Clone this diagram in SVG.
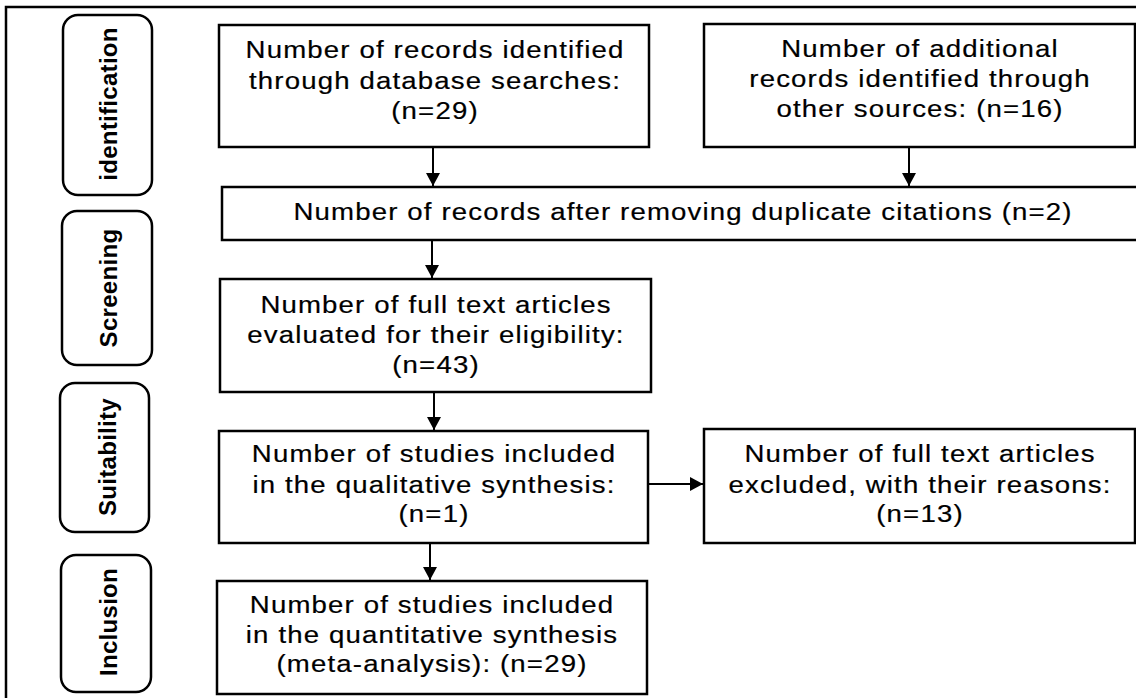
<svg xmlns="http://www.w3.org/2000/svg" width="1136" height="698" viewBox="0 0 1136 698">
<style>
.box{fill:#fff;stroke:#000;stroke-width:2.5}
.side{fill:#fff;stroke:#000;stroke-width:2.5}
.t{font-family:"Liberation Sans",Arial,sans-serif;font-size:24px;fill:#000;text-anchor:middle;letter-spacing:1px;stroke:#000;stroke-width:0.2}
.s{font-family:"Liberation Sans",Arial,sans-serif;font-size:24px;font-weight:bold;fill:#000;text-anchor:middle;letter-spacing:0.3px}
.c{stroke:#000;stroke-width:2;fill:none}
</style>
<defs>
<marker id="ah" viewBox="0 0 13 14" refX="13" refY="7" markerWidth="13" markerHeight="14" markerUnits="userSpaceOnUse" orient="auto">
<path d="M0,0 L13,7 L0,14 Z" fill="#000"/>
</marker>
</defs>
<rect x="6" y="7" width="1140" height="700" fill="#fff" stroke="#000" stroke-width="2.5"/>
<g id="side-identification"><rect class="side" x="63" y="15" width="89" height="180" rx="15"/><text class="s" transform="translate(117,104) rotate(-90)">identification</text></g>
<g id="side-screening"><rect class="side" x="62" y="211" width="90" height="154" rx="15"/><text class="s" transform="translate(117,288) rotate(-90)">Screening</text></g>
<g id="side-suitability"><rect class="side" x="60" y="383" width="89" height="149" rx="15"/><text class="s" transform="translate(116,457) rotate(-90)">Suitability</text></g>
<g id="side-inclusion"><rect class="side" x="61" y="555" width="90" height="137" rx="15"/><text class="s" transform="translate(117,622) rotate(-90)">Inclusion</text></g>
<g id="n1"><rect class="box" x="219" y="25" width="430" height="122"/>
<text class="t" transform="translate(435,58) scale(1.15,1)">Number of records identified</text>
<text class="t" transform="translate(435,89) scale(1.15,1)">through database searches:</text>
<text class="t" transform="translate(435,119) scale(1.15,1)">(n=29)</text></g>
<g id="n2"><rect class="box" x="704" y="24" width="431" height="123"/>
<text class="t" transform="translate(920,57) scale(1.15,1)">Number of additional</text>
<text class="t" transform="translate(920,87) scale(1.15,1)">records identified through</text>
<text class="t" transform="translate(920,117) scale(1.15,1)">other sources: (n=16)</text></g>
<g id="n3"><rect class="box" x="222" y="187" width="920" height="53"/>
<text class="t" transform="translate(683,220) scale(1.15,1)">Number of records after removing duplicate citations (n=2)</text></g>
<g id="n4"><rect class="box" x="220" y="279" width="431" height="113"/>
<text class="t" transform="translate(436,313) scale(1.15,1)">Number of full text articles</text>
<text class="t" transform="translate(436,343) scale(1.15,1)">evaluated for their eligibility:</text>
<text class="t" transform="translate(436,373) scale(1.15,1)">(n=43)</text></g>
<g id="n5"><rect class="box" x="219" y="431" width="429" height="112"/>
<text class="t" transform="translate(434,462) scale(1.15,1)">Number of studies included</text>
<text class="t" transform="translate(434,493) scale(1.15,1)">in the qualitative synthesis:</text>
<text class="t" transform="translate(434,522) scale(1.15,1)">(n=1)</text></g>
<g id="n6"><rect class="box" x="704" y="429" width="431" height="114"/>
<text class="t" transform="translate(920,462) scale(1.15,1)">Number of full text articles</text>
<text class="t" transform="translate(920,493) scale(1.15,1)">excluded, with their reasons:</text>
<text class="t" transform="translate(920,522) scale(1.15,1)">(n=13)</text></g>
<g id="n7"><rect class="box" x="217" y="581" width="430" height="113"/>
<text class="t" transform="translate(432,613) scale(1.15,1)">Number of studies included</text>
<text class="t" transform="translate(432,643) scale(1.15,1)">in the quantitative synthesis</text>
<text class="t" transform="translate(432,672) scale(1.15,1)">(meta-analysis): (n=29)</text></g>
<g id="connectors">
<line class="c" x1="433" y1="148" x2="433" y2="186" marker-end="url(#ah)"/>
<line class="c" x1="909" y1="148" x2="909" y2="186" marker-end="url(#ah)"/>
<line class="c" x1="432" y1="241" x2="432" y2="278" marker-end="url(#ah)"/>
<line class="c" x1="434" y1="393" x2="434" y2="430" marker-end="url(#ah)"/>
<line class="c" x1="649" y1="484" x2="703" y2="484" marker-end="url(#ah)"/>
<line class="c" x1="430" y1="544" x2="430" y2="580" marker-end="url(#ah)"/>
</g>
</svg>
